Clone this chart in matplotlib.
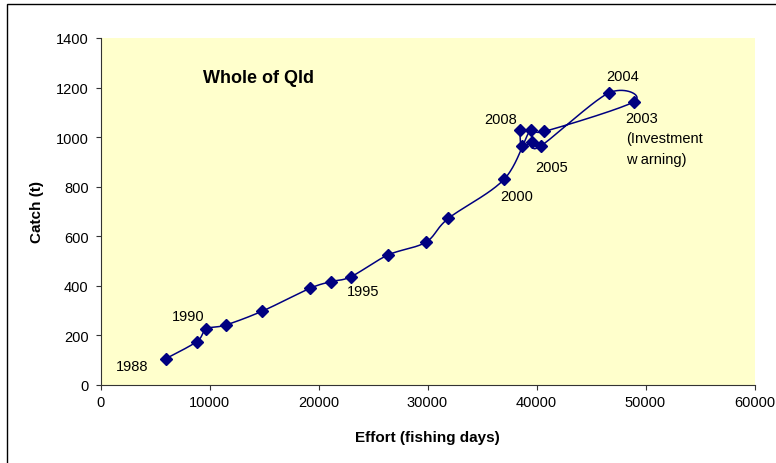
import numpy as np
import matplotlib
matplotlib.use('Agg')
import matplotlib.pyplot as plt
from matplotlib.patches import Rectangle

# data (effort in fishing days, catch in t)
years = [1988, 1989, 1990, 1991, 1992, 1993, 1994, 1995, 1996, 1997, 1998,
         2000, 2001, 2002, 2003, 2004, 2005, 2006, 2007, 2008]
effort = [5980, 8830, 9710, 11490, 14840, 19220, 21150, 22980, 26350, 29840, 31910,
          37050, 39470, 40720, 48950, 46620, 40410, 39620, 38640, 38490]
catch = [106, 175, 226, 242, 298, 390, 417, 437, 524, 576, 672,
         831, 1030, 1023, 1143, 1178, 965, 979, 963, 1029]

# which years get a text label, and where (offset in points)
year_labels = {
    1988: ("1988", (-24, -5)),
    1990: ("1990", (-13, 9)),
    1995: ("1995", (9, -10)),
    2000: ("2000", (9, -12)),
    2004: ("2004", (10, 12)),
    2005: ("2005", (8, -15)),
    2008: ("2008", (-14, 8)),
}
note_2003 = "2003\n(Investment\nw arning)"

xticks = list(range(0, 60001, 10000))
yticks = list(range(0, 1401, 200))

plt.rcParams['font.family'] = ['Liberation Sans', 'DejaVu Sans']

navy = '#000080'

fig = plt.figure(figsize=(7.76, 4.64), dpi=100)
fig.patch.set_facecolor('white')
ax = fig.add_axes([100.5 / 776, 1 - 386 / 464, 654 / 776, 347 / 464])
ax.set_facecolor('#FFFFCC')
ax.set_xlim(0, 60000)
ax.set_ylim(0, 1400)

# outer chart border (cut off at right and bottom like the original)
fig.add_artist(Rectangle((7 / 776, -0.05), 1.2, 1 - 5 / 464 + 0.05,
                         transform=fig.transFigure, fill=False,
                         edgecolor='black', lw=1.0, clip_on=False))


def excel_smooth(xs, ys, n=40):
    # bezier smoothing like Excel's "smoothed line", done in pixel space
    pts = ax.transData.transform(np.column_stack([xs, ys]))
    out = [pts[0]]
    t = np.linspace(0, 1, n)[1:, None]
    for i in range(len(pts) - 1):
        p0 = pts[i - 1] if i > 0 else pts[i]
        p1 = pts[i]
        p2 = pts[i + 1]
        p3 = pts[i + 2] if i + 2 < len(pts) else pts[i + 1]
        c1 = p1 + (p2 - p0) / 6
        c2 = p2 - (p3 - p1) / 6
        seg = (1 - t) ** 3 * p1 + 3 * (1 - t) ** 2 * t * c1 + 3 * (1 - t) * t ** 2 * c2 + t ** 3 * p2
        out.extend(seg)
    return ax.transData.inverted().transform(np.array(out))


curve = excel_smooth(effort, catch)
ax.plot(curve[:, 0], curve[:, 1], color=navy, lw=1.1, zorder=2)
ax.plot(effort, catch, linestyle='none', marker='D', markersize=6.5,
        color=navy, zorder=3)

for yr, (txt, off) in year_labels.items():
    i = years.index(yr)
    ax.annotate(txt, (effort[i], catch[i]), xytext=off, textcoords='offset points',
                ha='center', va='center', fontsize=10.5, color='black')

i = years.index(2003)
ax.annotate(note_2003, (effort[i], catch[i]), xytext=(-6, -7), textcoords='offset points',
            ha='left', va='top', fontsize=10.5, linespacing=1.55)

ax.text(0.157, 0.885, "Whole of Qld", transform=ax.transAxes, ha='left', va='center',
        fontsize=13, fontweight='bold')

for s in ['top', 'right']:
    ax.spines[s].set_visible(False)
for s in ['left', 'bottom']:
    ax.spines[s].set_color('#333333')
    ax.spines[s].set_linewidth(0.8)

ax.set_xticks(xticks)
ax.set_yticks(yticks)
ax.set_xticklabels([str(v) for v in xticks], fontsize=10.5)
ax.set_yticklabels([str(v) for v in yticks], fontsize=10.5)
ax.tick_params(axis='x', direction='out', length=3.5, width=0.8, pad=4, color='#333333')
ax.tick_params(axis='y', direction='out', length=3.5, width=0.8, pad=5, color='#333333')

ax.set_xlabel("Effort (fishing days)", fontsize=11, fontweight='bold', va='center')
ax.xaxis.set_label_coords(0.5, -0.150)
ax.set_ylabel("Catch (t)", fontsize=11, fontweight='bold', va='center')
ax.yaxis.set_label_coords(-0.097, 0.5)

fig.savefig('out.png', dpi=100)
